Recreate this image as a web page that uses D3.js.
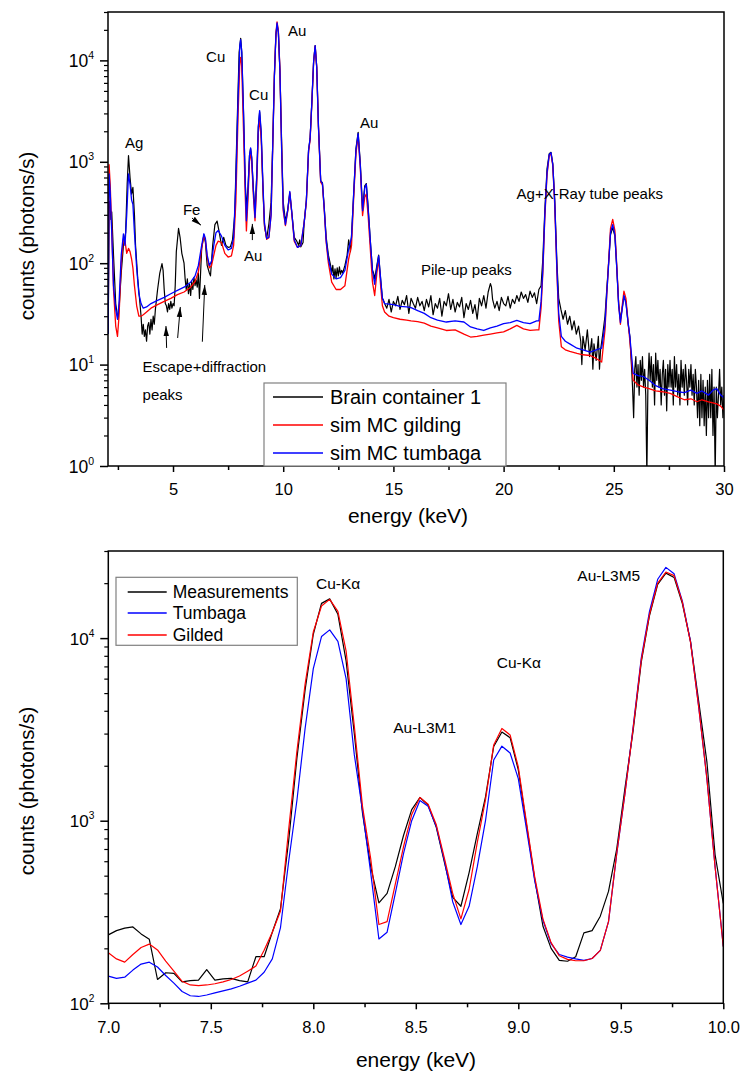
<!DOCTYPE html>
<html>
<head>
<meta charset="utf-8">
<script src="https://cdn.jsdelivr.net/npm/d3@7"></script>
<style>
body { margin: 0; background: #fff; }
text { font-family: Arial, "Liberation Sans", sans-serif; fill: #000; }
</style>
</head>
<body>
<div id="chart"></div>
<script>
// ---- top panel: full spectrum 2-30 keV ----
const topEnergySim = [2.06, 2.1, 2.15, 2.22, 2.3, 2.4, 2.48, 2.55, 2.65, 2.75, 2.82, 2.9, 2.98, 3.05, 3.12, 3.18, 3.25, 3.35, 3.45, 3.55,
    3.65, 3.8, 4.0, 4.3, 4.6, 4.9, 5.2, 5.5, 5.8, 6.0, 6.15, 6.3, 6.4, 6.47, 6.55, 6.65, 6.75, 6.85, 6.95, 7.05,
    7.2, 7.35, 7.5, 7.65, 7.75, 7.85, 7.95, 8.03, 8.07, 8.12, 8.2, 8.28, 8.33, 8.4, 8.47, 8.52, 8.57, 8.65, 8.72, 8.8,
    8.87, 8.93, 9.0, 9.08, 9.15, 9.25, 9.35, 9.45, 9.52, 9.6, 9.67, 9.72, 9.78, 9.85, 9.93, 10.0, 10.1, 10.2, 10.3, 10.4,
    10.5, 10.65, 10.8, 10.95, 11.05, 11.15, 11.22, 11.3, 11.38, 11.45, 11.52, 11.6, 11.7, 11.78, 11.86, 11.95, 12.05, 12.2, 12.4, 12.6,
    12.8, 12.97, 13.1, 13.2, 13.3, 13.4, 13.5, 13.6, 13.7, 13.77, 13.85, 13.95, 14.05, 14.15, 14.25, 14.33, 14.42, 14.5, 14.6, 14.8,
    15.0, 15.3, 15.6, 15.8, 16.1, 16.4, 16.7, 17.0, 17.4, 17.8, 18.2, 18.5, 18.8, 19.1, 19.4, 19.7, 20.0, 20.3, 20.6, 20.9,
    21.2, 21.5, 21.6, 21.7, 21.78, 21.87, 21.97, 22.07, 22.15, 22.23, 22.32, 22.42, 22.5, 22.62, 22.8, 23.0, 23.33, 23.6, 23.93, 24.2,
    24.45, 24.6, 24.68, 24.75, 24.85, 24.95, 25.05, 25.14, 25.22, 25.3, 25.38, 25.46, 25.55, 25.65, 25.73, 25.88, 26.1, 26.36, 26.6, 26.9,
    27.2, 27.56, 27.9, 28.2, 28.5, 28.77, 29.0, 29.3, 29.5, 29.67, 29.85, 30.0];
const topTumbaga = [20, 760, 500, 200, 60, 35, 28, 40, 120, 195, 150, 300, 760, 600, 420, 380, 200, 90, 50, 40,
    36, 37, 40, 43, 46, 50, 54, 58, 65, 75, 95, 150, 195, 175, 120, 95, 105, 150, 200, 210,
    185, 150, 135, 140, 180, 600, 4000, 14000, 16000, 12000, 3000, 600, 262, 500, 1150, 1370, 1100, 500, 282, 700,
    2200, 3200, 2000, 600, 250, 175, 180, 300, 1300, 7000, 18000, 23400, 19000, 8000, 1300, 350, 240, 330, 510, 300,
    170, 143, 150, 250, 410, 1300, 1700, 3900, 9800, 14000, 8600, 2200, 650, 610, 350, 167, 110, 78, 70, 72,
    85, 138, 180, 500, 1300, 1900, 900, 330, 550, 600, 350, 167, 85, 62, 90, 118, 70, 45, 40, 39.5,
    39, 37.5, 37, 36.5, 34, 32, 29, 27.5, 26.3, 27, 26.3, 23.5, 22.5, 21.7, 23, 24, 25.3, 26, 27.3, 26,
    25.3, 27, 27, 42, 86, 300, 780, 1180, 1230, 950, 400, 86, 32, 19, 17, 16, 14.5, 14, 13.3, 14,
    14.5, 25, 50, 86, 200, 240, 190, 86, 38, 26, 35, 48, 40, 26, 18.7, 8.2, 7.8, 7.6, 7, 6.2,
    5.8, 5.6, 5.4, 5.3, 5.6, 5.2, 5.5, 5.0, 5.6, 5.8, 5.0, 4.7];
const topGilding = [25, 935, 600, 220, 55, 24, 19, 30, 100, 175, 165, 125, 140, 130, 110, 90, 60, 38, 30, 30,
    31, 33, 36, 39, 42, 45, 49, 52, 58, 66, 82, 140, 186, 170, 115, 90, 95, 120, 150, 165,
    160, 125, 115, 118, 150, 400, 2800, 9500, 10700, 8500, 2000, 450, 208, 420, 1000, 1250, 1000, 450, 262, 600,
    1900, 2700, 1700, 550, 240, 172, 178, 300, 1300, 7200, 18500, 24000, 19500, 8200, 1300, 330, 235, 320, 500, 290,
    165, 143, 150, 250, 400, 1250, 1650, 3800, 9600, 13800, 8600, 2200, 630, 590, 340, 160, 100, 65, 55, 55,
    60, 110, 150, 450, 1200, 1800, 850, 295, 450, 480, 300, 140, 65, 48, 80, 110, 60, 38, 33, 30,
    29, 28, 27.5, 27, 26.5, 25.6, 24, 23, 21.7, 22, 20, 18.7, 19, 19.5, 20, 20.5, 21, 22.5, 24.4, 22.5,
    21.7, 22, 22, 36, 80, 280, 740, 1150, 1200, 920, 370, 80, 27, 15, 14, 13.5, 12.9, 12.5, 12.3, 11.5,
    10.6, 22, 48, 90, 220, 270, 210, 90, 40, 25, 38, 53, 45, 26, 17, 7, 6.3, 6.0, 5.8, 5.5,
    5.4, 5.2, 4.8, 4.5, 4.6, 4.3, 4.5, 4.3, 4.2, 4.1, 3.9, 3.55];
const topEnergyMeas = [2.06, 2.1, 2.14, 2.18, 2.22, 2.3, 2.4, 2.5, 2.55, 2.65, 2.75, 2.85, 2.92, 2.98, 3.05, 3.12, 3.18, 3.25, 3.3, 3.4,
    3.5, 3.55, 3.6, 3.65, 3.7, 3.75, 3.8, 3.85, 3.9, 3.95, 4.0, 4.05, 4.1, 4.15, 4.2, 4.3, 4.4, 4.5, 4.55, 4.6,
    4.65, 4.7, 4.75, 4.8, 4.85, 4.9, 4.95, 5.0, 5.05, 5.1, 5.15, 5.25, 5.32, 5.4, 5.5, 5.55, 5.6, 5.65, 5.7, 5.75,
    5.8, 5.85, 5.9, 5.95, 6.0, 6.05, 6.1, 6.15, 6.2, 6.3, 6.4, 6.47, 6.55, 6.65, 6.7, 6.8, 6.9, 7.0, 7.1, 7.2,
    7.3, 7.4, 7.5, 7.6, 7.7, 7.8, 7.9, 8.0, 8.07, 8.12, 8.2, 8.28, 8.33, 8.4, 8.47, 8.52, 8.57, 8.65, 8.72, 8.8,
    8.87, 8.93, 9.0, 9.08, 9.15, 9.25, 9.35, 9.45, 9.52, 9.6, 9.67, 9.72, 9.78, 9.85, 9.93, 10.0, 10.1, 10.2, 10.3, 10.4,
    10.5, 10.6, 10.7, 10.75, 10.8, 10.9, 10.95, 11.05, 11.15, 11.22, 11.3, 11.38, 11.45, 11.52, 11.6, 11.7, 11.78, 11.86, 11.95, 12.05,
    12.15, 12.2, 12.25, 12.3, 12.35, 12.4, 12.45, 12.5, 12.55, 12.6, 12.65, 12.7, 12.8, 12.9, 12.97, 13.05, 13.1, 13.2, 13.3, 13.4,
    13.5, 13.6, 13.7, 13.77, 13.85, 13.95, 14.05, 14.1, 14.15, 14.25, 14.33, 14.42, 14.5, 14.55, 14.6, 14.7, 14.8, 14.9, 15.0, 15.1,
    15.2, 15.3, 15.4, 15.5, 15.6, 15.7, 15.8, 15.9, 16.0, 16.1, 16.2, 16.3, 16.4, 16.5, 16.6, 16.7, 16.8, 16.9, 17.0, 17.1,
    17.2, 17.3, 17.4, 17.5, 17.6, 17.7, 17.8, 17.9, 18.0, 18.1, 18.2, 18.3, 18.4, 18.5, 18.6, 18.7, 18.8, 18.9, 19.0, 19.1,
    19.2, 19.3, 19.4, 19.45, 19.5, 19.6, 19.7, 19.8, 19.9, 20.0, 20.1, 20.2, 20.3, 20.4, 20.5, 20.6, 20.7, 20.8, 20.9, 21.0,
    21.1, 21.2, 21.3, 21.4, 21.5, 21.6, 21.7, 21.78, 21.87, 21.97, 22.07, 22.15, 22.23, 22.32, 22.42, 22.5, 22.6, 22.7, 22.8, 22.9,
    23.0, 23.1, 23.2, 23.3, 23.4, 23.5, 23.55, 23.6, 23.7, 23.8, 23.9, 24.0, 24.05, 24.1, 24.2, 24.3, 24.35, 24.4, 24.5, 24.6,
    24.68, 24.75, 24.85, 24.95, 25.05, 25.14, 25.22, 25.3, 25.38, 25.46, 25.55, 25.65, 25.73, 25.8, 25.85, 25.9, 25.95, 26.0, 26.05, 26.1,
    26.15, 26.2, 26.25, 26.3, 26.35, 26.4, 26.45, 26.5, 26.55, 26.6, 26.65, 26.7, 26.75, 26.8, 26.85, 26.9, 26.95, 27.0, 27.05, 27.1,
    27.15, 27.2, 27.25, 27.3, 27.35, 27.4, 27.45, 27.5, 27.55, 27.6, 27.65, 27.7, 27.75, 27.8, 27.85, 27.9, 27.95, 28.0, 28.05, 28.1,
    28.15, 28.2, 28.25, 28.3, 28.35, 28.4, 28.45, 28.5, 28.55, 28.6, 28.65, 28.7, 28.75, 28.8, 28.85, 28.9, 28.95, 29.0, 29.05, 29.1,
    29.15, 29.2, 29.25, 29.3, 29.35, 29.4, 29.45, 29.5, 29.55, 29.6, 29.65, 29.7, 29.75, 29.8, 29.85, 29.9, 29.95, 30.0];
const topMeasured = [20, 400, 410, 270, 320, 120, 40, 28, 35, 80, 150, 200, 600, 1150, 700, 480, 560, 300, 150, 70,
    40, 30, 20, 25, 19, 22, 17, 24, 26, 20, 28, 22, 30, 25, 35, 55, 80, 99, 85, 55,
    40, 38, 33, 40, 35, 42, 36, 40, 38, 60, 130, 220, 180, 125, 100, 70, 55, 70, 50, 62,
    48, 66, 55, 72, 60, 68, 58, 80, 45, 140, 190, 160, 95, 80, 75, 150, 240, 260, 200, 150,
    180, 150, 143, 145, 170, 300, 2000, 12000, 16500, 12000, 3000, 600, 350, 550, 1150, 1350, 1100, 520, 330, 750,
    2200, 3100, 1900, 550, 230, 175, 245, 400, 1400, 7000, 18000, 22700, 19000, 8000, 1500, 400, 260, 330, 485, 300,
    180, 167, 150, 170, 145, 160, 250, 420, 1300, 1700, 3900, 9800, 14000, 8600, 2200, 650, 620, 360, 180, 120,
    95, 80, 95, 70, 88, 72, 90, 75, 92, 78, 85, 80, 95, 120, 170, 130, 190, 500, 1350, 1950,
    950, 340, 580, 610, 370, 170, 85, 80, 70, 95, 120, 70, 45, 43, 40, 36, 44, 33, 42, 38,
    47, 35, 43, 39, 48, 32, 45, 40, 36, 46, 38, 42, 34, 44, 37, 48, 31, 40, 36, 45,
    30, 42, 38, 50, 35, 44, 33, 41, 37, 46, 29, 40, 35, 43, 32, 39, 28, 45, 38, 48,
    36, 52, 63, 58, 44, 36, 42, 34, 46, 40, 38, 47, 36, 44, 40, 48, 42, 52, 45, 49,
    41, 53, 46, 51, 40, 55, 60, 110, 330, 850, 1200, 1240, 960, 420, 100, 45, 35, 28, 34, 25,
    30, 22, 27, 20, 24, 17, 10, 19, 14, 22, 12, 18, 9, 16, 11, 19, 9, 14, 20, 30,
    55, 90, 190, 225, 185, 85, 40, 28, 36, 47, 42, 25, 19, 10, 6, 3, 9, 12, 6, 10,
    5, 11, 7, 12, 6, 9, 5, 0.8, 7, 13, 7, 12, 6, 10, 4, 13, 7, 11, 6, 9,
    4, 8, 11, 5, 9, 3.5, 10, 6, 11, 6, 9, 4, 12, 6, 10, 5, 8, 4, 11, 6,
    9, 5, 10, 7, 4, 9, 6, 10, 5, 8, 4, 9, 6, 3, 7, 2.5, 8, 3, 7, 2.5,
    6, 2, 7, 3, 8, 3, 9, 2, 6, 0.8, 6, 3, 5, 9, 4, 6, 3, 5];
const topSeriesNames = ["Brain container 1", "sim MC gilding", "sim MC tumbaga"];
const topXTicks = [5, 10, 15, 20, 25, 30];
const topXMinor = [2.5, 7.5, 12.5, 17.5, 22.5, 27.5];
const topYDecades = [1, 10, 100, 1000, 10000];

// ---- bottom panel: zoom 7-10 keV ----
const bottomEnergy = [7.00, 7.04, 7.08, 7.12, 7.16, 7.20, 7.24, 7.28, 7.32, 7.36, 7.40, 7.44, 7.48, 7.52, 7.56, 7.60, 7.64, 7.68, 7.72, 7.76,
    7.80, 7.84, 7.88, 7.92, 7.96, 8.00, 8.04, 8.08, 8.12, 8.16, 8.20, 8.24, 8.28, 8.32, 8.36, 8.40, 8.44, 8.48, 8.52, 8.56,
    8.60, 8.64, 8.68, 8.72, 8.76, 8.80, 8.84, 8.88, 8.92, 8.96, 9.00, 9.04, 9.08, 9.12, 9.16, 9.20, 9.24, 9.28, 9.32, 9.36,
    9.40, 9.44, 9.48, 9.52, 9.56, 9.60, 9.64, 9.68, 9.72, 9.76, 9.80, 9.84, 9.88, 9.92, 9.96, 10.00];
const bottomMeasured = [237, 250, 258, 262, 240, 224, 135, 147, 146, 131, 133, 134, 153, 134, 136, 137, 133, 131, 180, 180,
    245, 330, 780, 2200, 5200, 10500, 15500, 16400, 13500, 7500, 3000, 1100, 560, 355, 400, 560, 830, 1150, 1340, 1220,
    920, 590, 380, 340, 520, 850, 1350, 2550, 3060, 2850, 1900, 950, 480, 265, 200, 172, 170, 180, 243, 250,
    300, 410, 700, 1500, 3100, 7400, 13300, 19700, 22700, 21500, 15500, 9600, 4500, 2100, 650, 352];
const bottomTumbaga = [141, 137, 139, 152, 164, 168, 158, 142, 129, 116, 110, 109, 111, 114, 117, 120, 124, 129, 134, 148,
    175, 260, 600, 1290, 3200, 6800, 10200, 11100, 9600, 6000, 2300, 1140, 520, 225, 245, 400, 660, 1000, 1290, 1200,
    930, 600, 360, 270, 340, 560, 1000, 2150, 2560, 2350, 1700, 900, 470, 285, 212, 185, 179, 175, 172, 176,
    195, 280, 655, 1400, 3250, 7800, 14000, 21000, 24400, 22500, 16000, 9600, 4200, 1700, 560, 205];
const bottomGilded = [189, 175, 168, 185, 202, 211, 196, 170, 150, 132, 126, 125, 126, 128, 131, 135, 141, 150, 160, 195,
    245, 320, 900, 2400, 5600, 10800, 15000, 16300, 14000, 8500, 3300, 1200, 620, 270, 280, 450, 720, 1080, 1340, 1230,
    950, 620, 400, 290, 420, 760, 1300, 2600, 3200, 2950, 1970, 980, 493, 290, 215, 182, 174, 171, 171, 176,
    195, 280, 661, 1400, 3200, 7600, 13500, 20000, 23000, 22000, 15800, 9500, 4200, 1700, 558, 204];
const bottomSeriesNames = ["Measurements", "Tumbaga", "Gilded"];
const bottomXTicks = [7.0, 7.5, 8.0, 8.5, 9.0, 9.5, 10.0];
const bottomXMinor = [7.25, 7.75, 8.25, 8.75, 9.25, 9.75];
const bottomYDecades = [100, 1000, 10000];

const svg = d3.select("#chart").append("svg")
    .attr("width", 742)
    .attr("height", 1073);
const defs = svg.append("defs");

defs.append("marker")
    .attr("id", "arrowhead")
    .attr("viewBox", "0 0 10 10")
    .attr("refX", 10).attr("refY", 5)
    .attr("markerUnits", "userSpaceOnUse")
    .attr("markerWidth", 10).attr("markerHeight", 10)
    .attr("orient", "auto")
    .append("path")
    .attr("d", "M0,2.3L10,5L0,7.7Z")
    .attr("fill", "#000");

function drawPanel(p) {
    const x = d3.scaleLinear().domain(p.xDomain).range([p.left, p.right]);
    const y = d3.scaleLog().domain(p.yDomain).range([p.bottom, p.top]);
    const g = svg.append("g");

    defs.append("clipPath").attr("id", p.id + "-clip")
        .append("rect")
        .attr("x", p.left).attr("y", p.top)
        .attr("width", p.right - p.left).attr("height", p.bottom - p.top);

    const line = d3.line()
        .x(d => x(d[0]))
        .y(d => y(Math.max(d[1], p.yDomain[0] * 0.5)));

    p.series.forEach(s => {
        g.append("path")
            .datum(d3.zip(s.x, s.y))
            .attr("clip-path", `url(#${p.id}-clip)`)
            .attr("fill", "none")
            .attr("stroke", s.color)
            .attr("stroke-width", s.width)
            .attr("stroke-linejoin", "round")
            .attr("d", line);
    });

    // x axis, major + minor ticks
    g.append("g")
        .attr("transform", `translate(0, ${p.bottom})`)
        .call(d3.axisBottom(x).tickValues(p.xTicks).tickSize(6).tickPadding(p.xPad).tickFormat(p.xFormat))
        .call(a => a.select(".domain").remove())
        .call(a => a.selectAll("line").attr("stroke-width", 1.5))
        .call(a => a.selectAll("text").attr("font-size", 16.5).attr("font-family", null));
    g.append("g")
        .attr("transform", `translate(0, ${p.bottom})`)
        .call(d3.axisBottom(x).tickValues(p.xMinor).tickSize(4).tickFormat(""))
        .call(a => a.select(".domain").remove())
        .call(a => a.selectAll("line").attr("stroke-width", 1.5));

    // y axis: decades get long ticks, 2..9 short ones
    const allY = y.ticks();
    const minorY = allY.filter(v => p.yDecades.indexOf(v) < 0);
    g.append("g")
        .attr("transform", `translate(${p.left}, 0)`)
        .call(d3.axisLeft(y).tickValues(p.yDecades).tickSize(8).tickFormat(""))
        .call(a => a.select(".domain").remove())
        .call(a => a.selectAll("line").attr("stroke-width", 1.5));
    g.append("g")
        .attr("transform", `translate(${p.left}, 0)`)
        .call(d3.axisLeft(y).tickValues(minorY).tickSize(4).tickFormat(""))
        .call(a => a.select(".domain").remove())
        .call(a => a.selectAll("line").attr("stroke-width", 1.2));

    p.yDecades.forEach(v => {
        const t = g.append("text")
            .attr("x", p.left - 14)
            .attr("y", y(v) + 6.5)
            .attr("text-anchor", "end")
            .attr("font-size", p.yLabelSize);
        t.append("tspan").text("10");
        t.append("tspan")
            .attr("font-size", p.yLabelSize * 0.6)
            .attr("dy", -8)
            .text(Math.round(Math.log10(v)));
    });

    // frame
    g.append("rect")
        .attr("x", p.left).attr("y", p.top)
        .attr("width", p.right - p.left).attr("height", p.bottom - p.top)
        .attr("fill", "none")
        .attr("stroke", "#000")
        .attr("stroke-width", 1.5);

    // axis titles
    g.append("text")
        .attr("x", p.xTitleX).attr("y", p.xTitleY)
        .attr("text-anchor", "middle")
        .attr("font-size", 21)
        .text("energy (keV)");
    g.append("text")
        .attr("transform", `translate(34, ${p.yTitleY}) rotate(-90)`)
        .attr("text-anchor", "middle")
        .attr("font-size", 20.5)
        .text("counts (photons/s)");

    // annotations placed in data space
    p.notes.forEach(n => {
        g.append("text")
            .attr("x", x(n.e)).attr("y", y(n.v))
            .attr("font-size", p.noteSize)
            .text(n.text);
    });
    (p.arrows || []).forEach(a => {
        g.append("line")
            .attr("x1", x(a.e0)).attr("y1", y(a.v0))
            .attr("x2", x(a.e1)).attr("y2", y(a.v1))
            .attr("stroke", "#000")
            .attr("stroke-width", 1)
            .attr("marker-end", "url(#arrowhead)");
    });

    // legend
    const L = p.legend;
    const lg = g.append("g");
    lg.append("rect")
        .attr("x", L.x).attr("y", L.y)
        .attr("width", L.w).attr("height", L.h)
        .attr("fill", "#fff")
        .attr("stroke", "#808080")
        .attr("stroke-width", 1.2);
    L.items.forEach((it, i) => {
        const cy = Math.round(L.y + L.first + i * L.step);
        lg.append("path")
            .attr("d", `M${L.x + L.pad},${cy}H${L.x + L.pad + L.len}`)
            .attr("fill", "none")
            .attr("stroke", it.color)
            .attr("stroke-width", 1.3);
        lg.append("text")
            .attr("x", L.x + L.pad + L.len + L.gap)
            .attr("y", cy + L.size * 0.36)
            .attr("font-size", L.size)
            .text(it.name);
    });
}

drawPanel({
    id: "top",
    left: 108, right: 724, top: 12, bottom: 466,
    xDomain: [2.05, 30], yDomain: [1, 30000],
    xTicks: topXTicks, xMinor: topXMinor, xPad: 11, xFormat: d3.format("d"),
    yDecades: topYDecades, yLabelSize: 17.5,
    xTitleX: 408, xTitleY: 523, yTitleY: 236,
    series: [
        {x: topEnergyMeas, y: topMeasured, color: "#000", width: 1.2},
        {x: topEnergySim, y: topGilding, color: "#ff0000", width: 1.3},
        {x: topEnergySim, y: topTumbaga, color: "#0000ff", width: 1.3}
    ],
    noteSize: 15,
    notes: [
        {text: "Ag", e: 2.82, v: 1370},
        {text: "Cu", e: 6.5, v: 9650},
        {text: "Cu", e: 8.45, v: 4070},
        {text: "Au", e: 10.22, v: 17400},
        {text: "Au", e: 13.48, v: 2150},
        {text: "Au", e: 8.22, v: 105},
        {text: "Fe", e: 5.45, v: 299},
        {text: "Pile-up peaks", e: 16.25, v: 76},
        {text: "Ag+X-Ray tube peaks", e: 20.59, v: 430},
        {text: "Escape+diffraction", e: 3.62, v: 8.45},
        {text: "peaks", e: 3.62, v: 4.48}
    ],
    arrows: [
        {e0: 4.71, v0: 14.6, e1: 4.68, v1: 24},
        {e0: 5.21, v0: 18.3, e1: 5.33, v1: 37},
        {e0: 6.33, v0: 16.8, e1: 6.44, v1: 61},
        {e0: 8.6, v0: 169, e1: 8.6, v1: 244},
        {e0: 5.86, v0: 279, e1: 6.27, v1: 237}
    ],
    legend: {
        x: 264, y: 383, w: 242, h: 83, first: 14, step: 28, pad: 9, len: 50, gap: 7, size: 20,
        items: [
            {name: topSeriesNames[0], color: "#000000"},
            {name: topSeriesNames[1], color: "#ff0000"},
            {name: topSeriesNames[2], color: "#0000ff"}
        ]
    }
});

drawPanel({
    id: "bottom",
    left: 108.3, right: 723.3, top: 551, bottom: 1003.3,
    xDomain: [7, 10], yDomain: [100, 30000],
    xTicks: bottomXTicks, xMinor: bottomXMinor, xPad: 12, xFormat: d3.format(".1f"),
    yDecades: bottomYDecades, yLabelSize: 17,
    xTitleX: 416, xTitleY: 1067, yTitleY: 791,
    series: [
        {x: bottomEnergy, y: bottomMeasured, color: "#000", width: 1.2},
        {x: bottomEnergy, y: bottomTumbaga, color: "#0000ff", width: 1.2},
        {x: bottomEnergy, y: bottomGilded, color: "#ff0000", width: 1.2}
    ],
    noteSize: 15.5,
    notes: [
        {text: "Cu-K\u03b1", e: 8.013, v: 18600},
        {text: "Au-L3M1", e: 8.39, v: 3020},
        {text: "Cu-K\u03b1", e: 8.895, v: 6850},
        {text: "Au-L3M5", e: 9.288, v: 20600}
    ],
    legend: {
        x: 116, y: 577.3, w: 181.3, h: 68, first: 14.4, step: 21.7, pad: 11.7, len: 39, gap: 6, size: 17.5,
        items: [
            {name: bottomSeriesNames[0], color: "#000000"},
            {name: bottomSeriesNames[1], color: "#0000ff"},
            {name: bottomSeriesNames[2], color: "#ff0000"}
        ]
    }
});
</script>
</body>
</html>
